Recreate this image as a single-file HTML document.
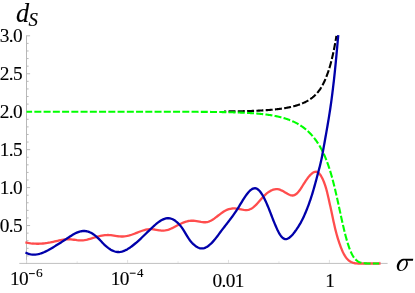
<!DOCTYPE html>
<html><head><meta charset="utf-8"><title>plot</title>
<style>html,body{margin:0;padding:0;background:#fff;}svg{display:block;}</style></head>
<body>
<svg width="415" height="293" viewBox="0 0 415 293">
<rect width="415" height="293" fill="#fff"/>
<g stroke="#b8b8b8" stroke-width="1" fill="none">
<line x1="26.5" y1="35.4" x2="26.5" y2="264.0"/>
<line x1="19.3" y1="263.4" x2="387.6" y2="263.4" stroke="#c0c0c0"/>
<line x1="26.5" y1="255.91" x2="28.6" y2="255.91"/>
<line x1="26.5" y1="248.32" x2="28.6" y2="248.32"/>
<line x1="26.5" y1="240.73" x2="28.6" y2="240.73"/>
<line x1="26.5" y1="233.14" x2="28.6" y2="233.14"/>
<line x1="26.5" y1="225.55" x2="30.1" y2="225.55"/>
<line x1="26.5" y1="217.96" x2="28.6" y2="217.96"/>
<line x1="26.5" y1="210.37" x2="28.6" y2="210.37"/>
<line x1="26.5" y1="202.78" x2="28.6" y2="202.78"/>
<line x1="26.5" y1="195.19" x2="28.6" y2="195.19"/>
<line x1="26.5" y1="187.60" x2="30.1" y2="187.60"/>
<line x1="26.5" y1="180.01" x2="28.6" y2="180.01"/>
<line x1="26.5" y1="172.42" x2="28.6" y2="172.42"/>
<line x1="26.5" y1="164.83" x2="28.6" y2="164.83"/>
<line x1="26.5" y1="157.24" x2="28.6" y2="157.24"/>
<line x1="26.5" y1="149.65" x2="30.1" y2="149.65"/>
<line x1="26.5" y1="142.06" x2="28.6" y2="142.06"/>
<line x1="26.5" y1="134.47" x2="28.6" y2="134.47"/>
<line x1="26.5" y1="126.88" x2="28.6" y2="126.88"/>
<line x1="26.5" y1="119.29" x2="28.6" y2="119.29"/>
<line x1="26.5" y1="111.70" x2="30.1" y2="111.70"/>
<line x1="26.5" y1="104.11" x2="28.6" y2="104.11"/>
<line x1="26.5" y1="96.52" x2="28.6" y2="96.52"/>
<line x1="26.5" y1="88.93" x2="28.6" y2="88.93"/>
<line x1="26.5" y1="81.34" x2="28.6" y2="81.34"/>
<line x1="26.5" y1="73.75" x2="30.1" y2="73.75"/>
<line x1="26.5" y1="66.16" x2="28.6" y2="66.16"/>
<line x1="26.5" y1="58.57" x2="28.6" y2="58.57"/>
<line x1="26.5" y1="50.98" x2="28.6" y2="50.98"/>
<line x1="26.5" y1="43.39" x2="28.6" y2="43.39"/>
<line x1="26.5" y1="35.80" x2="30.1" y2="35.80"/>
<line x1="26.70" y1="262.9" x2="26.70" y2="259.9" stroke="#e0e0e0"/>
<line x1="77.15" y1="262.9" x2="77.15" y2="261.4" stroke="#e0e0e0"/>
<line x1="127.60" y1="262.9" x2="127.60" y2="259.9" stroke="#e0e0e0"/>
<line x1="178.05" y1="262.9" x2="178.05" y2="261.4" stroke="#e0e0e0"/>
<line x1="228.50" y1="262.9" x2="228.50" y2="259.9" stroke="#e0e0e0"/>
<line x1="278.95" y1="262.9" x2="278.95" y2="261.4" stroke="#e0e0e0"/>
<line x1="329.40" y1="262.9" x2="329.40" y2="259.9" stroke="#e0e0e0"/>
<line x1="379.85" y1="262.9" x2="379.85" y2="261.4" stroke="#e0e0e0"/>
</g>
<path d="M26.50,242.60 L27.98,242.90 L29.47,243.16 L30.96,243.36 L32.46,243.52 L33.95,243.63 L35.45,243.71 L36.95,243.74 L38.44,243.73 L39.94,243.68 L41.44,243.60 L42.93,243.48 L44.43,243.33 L45.92,243.15 L47.40,242.94 L48.88,242.69 L50.36,242.43 L51.83,242.13 L53.30,241.82 L54.76,241.49 L56.22,241.15 L57.68,240.81 L59.14,240.48 L60.61,240.17 L62.08,239.88 L63.56,239.62 L65.04,239.41 L66.54,239.26 L68.03,239.20 L69.53,239.24 L71.03,239.36 L72.52,239.54 L74.02,239.76 L75.51,239.97 L77.00,240.17 L78.48,240.32 L79.96,240.40 L81.44,240.38 L82.91,240.28 L84.37,240.10 L85.84,239.85 L87.30,239.54 L88.76,239.18 L90.21,238.79 L91.67,238.37 L93.13,237.94 L94.59,237.50 L96.05,237.06 L97.52,236.64 L98.99,236.25 L100.46,235.89 L101.94,235.58 L103.42,235.33 L104.91,235.14 L106.40,235.03 L107.90,235.00 L109.39,235.06 L110.88,235.20 L112.38,235.38 L113.88,235.60 L115.37,235.83 L116.86,236.05 L118.36,236.25 L119.84,236.41 L121.33,236.50 L122.81,236.51 L124.29,236.41 L125.77,236.23 L127.23,235.96 L128.69,235.61 L130.15,235.20 L131.59,234.74 L133.03,234.24 L134.46,233.71 L135.88,233.15 L137.29,232.59 L138.70,232.03 L140.10,231.49 L141.51,230.98 L142.93,230.51 L144.36,230.09 L145.80,229.73 L147.27,229.46 L148.75,229.27 L150.25,229.18 L151.76,229.19 L153.27,229.31 L154.77,229.51 L156.27,229.76 L157.77,230.03 L159.26,230.28 L160.73,230.48 L162.20,230.59 L163.65,230.59 L165.08,230.44 L166.50,230.18 L167.91,229.80 L169.31,229.32 L170.70,228.77 L172.09,228.15 L173.47,227.48 L174.85,226.77 L176.23,226.05 L177.61,225.32 L179.00,224.60 L180.40,223.91 L181.80,223.25 L183.22,222.65 L184.64,222.10 L186.08,221.63 L187.53,221.25 L188.99,220.95 L190.46,220.77 L191.96,220.70 L193.46,220.75 L194.98,220.91 L196.50,221.15 L198.02,221.42 L199.53,221.70 L201.04,221.96 L202.52,222.16 L203.98,222.27 L205.41,222.26 L206.80,222.10 L208.16,221.77 L209.49,221.31 L210.78,220.72 L212.06,220.02 L213.32,219.23 L214.57,218.37 L215.81,217.45 L217.04,216.50 L218.28,215.53 L219.53,214.55 L220.79,213.60 L222.07,212.67 L223.37,211.80 L224.69,210.99 L226.05,210.27 L227.44,209.66 L228.87,209.16 L230.33,208.77 L231.81,208.52 L233.32,208.41 L234.84,208.43 L236.38,208.59 L237.92,208.83 L239.46,209.12 L240.99,209.42 L242.50,209.71 L243.97,209.93 L245.41,210.06 L246.80,210.06 L248.13,209.90 L249.41,209.55 L250.63,209.05 L251.81,208.39 L252.96,207.60 L254.08,206.70 L255.17,205.70 L256.25,204.62 L257.32,203.46 L258.39,202.26 L259.47,201.02 L260.56,199.76 L261.67,198.49 L262.81,197.24 L263.98,196.02 L265.20,194.83 L266.45,193.71 L267.75,192.67 L269.08,191.73 L270.44,190.90 L271.82,190.21 L273.23,189.68 L274.65,189.32 L276.09,189.15 L277.54,189.19 L278.99,189.46 L280.44,189.94 L281.89,190.58 L283.33,191.34 L284.75,192.16 L286.15,192.99 L287.51,193.78 L288.85,194.48 L290.14,195.03 L291.38,195.39 L292.58,195.51 L293.71,195.35 L294.80,194.95 L295.86,194.32 L296.88,193.49 L297.87,192.47 L298.85,191.30 L299.82,190.00 L300.79,188.58 L301.76,187.08 L302.75,185.51 L303.76,183.90 L304.80,182.27 L305.87,180.65 L306.98,179.06 L308.11,177.53 L309.27,176.12 L310.44,174.84 L311.61,173.73 L312.77,172.83 L313.92,172.17 L315.06,171.80 L316.16,171.73 L317.23,172.01 L318.25,172.62 L319.23,173.51 L320.17,174.65 L321.05,175.98 L321.88,177.45 L322.66,179.02 L323.37,180.64 L324.03,182.26 L324.62,183.84 L325.16,185.37 L325.64,186.86 L326.08,188.31 L326.47,189.73 L326.84,191.13 L327.19,192.52 L327.52,193.90 L327.84,195.29 L328.16,196.70 L328.48,198.11 L328.80,199.54 L329.13,200.99 L329.45,202.44 L329.78,203.90 L330.10,205.37 L330.43,206.85 L330.75,208.33 L331.07,209.81 L331.40,211.30 L331.71,212.78 L332.03,214.27 L332.35,215.75 L332.66,217.23 L332.97,218.70 L333.28,220.17 L333.59,221.64 L333.91,223.10 L334.23,224.56 L334.56,226.02 L334.89,227.48 L335.24,228.93 L335.60,230.38 L335.97,231.83 L336.35,233.28 L336.75,234.73 L337.16,236.17 L337.59,237.61 L338.03,239.04 L338.48,240.47 L338.95,241.90 L339.43,243.32 L339.93,244.73 L340.44,246.14 L340.98,247.54 L341.53,248.93 L342.11,250.32 L342.71,251.69 L343.35,253.04 L344.05,254.37 L344.80,255.67 L345.62,256.94 L346.52,258.15 L347.52,259.28 L348.61,260.31 L349.82,261.21 L351.12,261.97 L352.50,262.57 L353.94,263.00 L355.41,263.27 L356.91,263.42 L358.42,263.49 L359.92,263.52 L361.42,263.52 L362.92,263.51 L364.41,263.50 L365.91,263.49 L367.41,263.49 L368.91,263.50 L370.41,263.50 L371.91,263.50 L373.41,263.50 L374.90,263.50 L376.40,263.50 L377.90,263.50 L379.40,263.50" fill="none" stroke="#ff4d4d" stroke-width="2.3" stroke-linejoin="round" stroke-linecap="square"/>
<path d="M224.00,111.48 L224.50,111.48 L225.00,111.47 L225.50,111.46 L226.00,111.46 L226.50,111.45 L227.00,111.45 L227.50,111.44 L228.00,111.44 L228.50,111.43 L229.00,111.42 L229.50,111.42 L230.00,111.41 L230.50,111.40 L231.00,111.40 L231.50,111.39 L232.00,111.38 L232.50,111.38 L233.00,111.37 L233.50,111.36 L234.00,111.35 L234.50,111.34 L235.00,111.34 L235.50,111.33 L236.00,111.32 L236.50,111.31 L237.00,111.30 L237.50,111.29 L238.00,111.28 L238.50,111.27 L239.00,111.26 L239.50,111.25 L240.00,111.24 L240.50,111.23 L241.00,111.22 L241.50,111.21 L242.00,111.20 L242.50,111.19 L243.00,111.18 L243.50,111.16 L244.00,111.15 L244.50,111.14 L245.00,111.13 L245.50,111.11 L246.00,111.10 L246.50,111.09 L247.00,111.07 L247.50,111.06 L248.00,111.04 L248.50,111.03 L249.00,111.01 L249.50,111.00 L250.00,110.98 L250.50,110.96 L251.00,110.95 L251.50,110.93 L252.00,110.91 L252.50,110.89 L253.00,110.87 L253.50,110.85 L254.00,110.83 L254.50,110.81 L255.00,110.79 L255.50,110.77 L256.00,110.75 L256.50,110.73 L257.00,110.71 L257.50,110.68 L258.00,110.66 L258.50,110.64 L259.00,110.61 L259.50,110.59 L260.00,110.56 L260.50,110.54 L261.00,110.51 L261.50,110.48 L262.00,110.45 L262.50,110.42 L263.00,110.39 L263.50,110.36 L264.00,110.33 L264.50,110.30 L265.00,110.27 L265.50,110.24 L266.00,110.20 L266.50,110.17 L267.00,110.13 L267.50,110.09 L268.00,110.06 L268.50,110.02 L269.00,109.98 L269.50,109.94 L270.00,109.90 L270.50,109.86 L271.00,109.82 L271.50,109.77 L272.00,109.73 L272.50,109.68 L273.00,109.63 L273.50,109.59 L274.00,109.54 L274.50,109.49 L275.00,109.43 L275.50,109.38 L276.00,109.33 L276.50,109.27 L277.00,109.22 L277.50,109.16 L278.00,109.10 L278.50,109.04 L279.00,108.97 L279.50,108.91 L280.00,108.85 L280.50,108.78 L281.00,108.71 L281.50,108.64 L282.00,108.57 L282.50,108.49 L283.00,108.42 L283.50,108.34 L284.00,108.26 L284.50,108.18 L285.00,108.10 L285.50,108.01 L286.00,107.93 L286.50,107.84 L287.00,107.74 L287.50,107.65 L288.00,107.55 L288.50,107.46 L289.00,107.35 L289.50,107.25 L290.00,107.14 L290.50,107.03 L291.00,106.92 L291.50,106.81 L292.00,106.69 L292.50,106.57 L293.00,106.45 L293.50,106.32 L294.00,106.19 L294.50,106.05 L295.00,105.92 L295.50,105.77 L296.00,105.63 L296.50,105.48 L297.00,105.33 L297.50,105.17 L298.00,105.01 L298.50,104.84 L299.00,104.67 L299.50,104.50 L300.00,104.32 L300.50,104.13 L301.00,103.94 L301.50,103.74 L302.00,103.54 L302.50,103.33 L303.00,103.12 L303.50,102.90 L304.00,102.67 L304.50,102.43 L305.00,102.19 L305.50,101.94 L306.00,101.69 L306.50,101.42 L307.00,101.15 L307.50,100.86 L308.00,100.57 L308.50,100.27 L309.00,99.96 L309.50,99.64 L310.00,99.30 L310.50,98.96 L311.00,98.60 L311.50,98.23 L312.00,97.85 L312.50,97.46 L313.00,97.04 L313.50,96.62 L314.00,96.18 L314.50,95.72 L315.00,95.24 L315.50,94.75 L316.00,94.24 L316.50,93.70 L317.00,93.15 L317.50,92.57 L318.00,91.97 L318.50,91.34 L319.00,90.69 L319.50,90.01 L320.00,89.30 L320.50,88.55 L321.00,87.78 L321.50,86.97 L322.00,86.13 L322.50,85.24 L323.00,84.32 L323.50,83.35 L324.00,82.34 L324.50,81.28 L325.00,80.17 L325.50,79.00 L326.00,77.78 L326.50,76.49 L327.00,75.14 L327.52,73.73 L328.05,72.24 L328.58,70.67 L329.11,69.02 L329.64,67.29 L330.17,65.46 L330.71,63.53 L331.24,61.50 L331.78,59.36 L332.32,57.10 L332.86,54.72 L333.41,52.20 L333.96,49.55 L334.51,46.74 L335.06,43.77 L335.62,40.63 L336.18,37.31 L336.39,35.90" fill="none" stroke="#000" stroke-width="2.1" stroke-dasharray="7.0 2.30" stroke-dashoffset="4.81"/>
<path d="M26.50,111.70 L27.00,111.70 L27.50,111.70 L28.00,111.70 L28.50,111.70 L29.00,111.70 L29.50,111.70 L30.00,111.70 L30.50,111.70 L31.00,111.70 L31.50,111.70 L32.00,111.70 L32.50,111.70 L33.00,111.70 L33.50,111.70 L34.00,111.70 L34.50,111.70 L35.00,111.70 L35.50,111.70 L36.00,111.70 L36.50,111.70 L37.00,111.70 L37.50,111.70 L38.00,111.70 L38.50,111.70 L39.00,111.70 L39.50,111.70 L40.00,111.70 L40.50,111.70 L41.00,111.70 L41.50,111.70 L42.00,111.70 L42.50,111.70 L43.00,111.70 L43.50,111.70 L44.00,111.70 L44.50,111.70 L45.00,111.70 L45.50,111.70 L46.00,111.70 L46.50,111.70 L47.00,111.70 L47.50,111.70 L48.00,111.70 L48.50,111.70 L49.00,111.70 L49.50,111.70 L50.00,111.70 L50.50,111.70 L51.00,111.70 L51.50,111.70 L52.00,111.70 L52.50,111.70 L53.00,111.70 L53.50,111.70 L54.00,111.70 L54.50,111.70 L55.00,111.70 L55.50,111.70 L56.00,111.70 L56.50,111.70 L57.00,111.70 L57.50,111.70 L58.00,111.70 L58.50,111.70 L59.00,111.70 L59.50,111.70 L60.00,111.70 L60.50,111.70 L61.00,111.70 L61.50,111.70 L62.00,111.70 L62.50,111.70 L63.00,111.70 L63.50,111.70 L64.00,111.70 L64.50,111.70 L65.00,111.70 L65.50,111.70 L66.00,111.70 L66.50,111.70 L67.00,111.70 L67.50,111.70 L68.00,111.70 L68.50,111.70 L69.00,111.70 L69.50,111.70 L70.00,111.70 L70.50,111.70 L71.00,111.70 L71.50,111.70 L72.00,111.70 L72.50,111.70 L73.00,111.70 L73.50,111.70 L74.00,111.70 L74.50,111.70 L75.00,111.70 L75.50,111.70 L76.00,111.70 L76.50,111.70 L77.00,111.70 L77.50,111.70 L78.00,111.70 L78.50,111.70 L79.00,111.70 L79.50,111.70 L80.00,111.70 L80.50,111.70 L81.00,111.70 L81.50,111.70 L82.00,111.70 L82.50,111.70 L83.00,111.70 L83.50,111.70 L84.00,111.70 L84.50,111.70 L85.00,111.70 L85.50,111.70 L86.00,111.70 L86.50,111.70 L87.00,111.70 L87.50,111.70 L88.00,111.70 L88.50,111.70 L89.00,111.70 L89.50,111.70 L90.00,111.70 L90.50,111.70 L91.00,111.70 L91.50,111.70 L92.00,111.70 L92.50,111.70 L93.00,111.70 L93.50,111.70 L94.00,111.70 L94.50,111.70 L95.00,111.70 L95.50,111.70 L96.00,111.70 L96.50,111.70 L97.00,111.70 L97.50,111.70 L98.00,111.70 L98.50,111.70 L99.00,111.70 L99.50,111.70 L100.00,111.70 L100.50,111.70 L101.00,111.70 L101.50,111.70 L102.00,111.70 L102.50,111.70 L103.00,111.70 L103.50,111.70 L104.00,111.70 L104.50,111.70 L105.00,111.70 L105.50,111.70 L106.00,111.70 L106.50,111.70 L107.00,111.70 L107.50,111.70 L108.00,111.70 L108.50,111.70 L109.00,111.70 L109.50,111.70 L110.00,111.70 L110.50,111.70 L111.00,111.70 L111.50,111.70 L112.00,111.70 L112.50,111.70 L113.00,111.70 L113.50,111.70 L114.00,111.70 L114.50,111.70 L115.00,111.70 L115.50,111.70 L116.00,111.70 L116.50,111.70 L117.00,111.70 L117.50,111.70 L118.00,111.70 L118.50,111.70 L119.00,111.70 L119.50,111.70 L120.00,111.70 L120.50,111.70 L121.00,111.70 L121.50,111.70 L122.00,111.70 L122.50,111.70 L123.00,111.70 L123.50,111.70 L124.00,111.70 L124.50,111.70 L125.00,111.70 L125.50,111.70 L126.00,111.70 L126.50,111.70 L127.00,111.70 L127.50,111.71 L128.00,111.71 L128.50,111.71 L129.00,111.71 L129.50,111.71 L130.00,111.71 L130.50,111.71 L131.00,111.71 L131.50,111.71 L132.00,111.71 L132.50,111.71 L133.00,111.71 L133.50,111.71 L134.00,111.71 L134.50,111.71 L135.00,111.71 L135.50,111.71 L136.00,111.71 L136.50,111.71 L137.00,111.71 L137.50,111.71 L138.00,111.71 L138.50,111.71 L139.00,111.71 L139.50,111.71 L140.00,111.71 L140.50,111.71 L141.00,111.71 L141.50,111.71 L142.00,111.71 L142.50,111.71 L143.00,111.71 L143.50,111.71 L144.00,111.71 L144.50,111.71 L145.00,111.71 L145.50,111.71 L146.00,111.71 L146.50,111.71 L147.00,111.71 L147.50,111.71 L148.00,111.71 L148.50,111.71 L149.00,111.71 L149.50,111.71 L150.00,111.71 L150.50,111.71 L151.00,111.71 L151.50,111.72 L152.00,111.72 L152.50,111.72 L153.00,111.72 L153.50,111.72 L154.00,111.72 L154.50,111.72 L155.00,111.72 L155.50,111.72 L156.00,111.72 L156.50,111.72 L157.00,111.72 L157.50,111.72 L158.00,111.72 L158.50,111.72 L159.00,111.72 L159.50,111.72 L160.00,111.72 L160.50,111.72 L161.00,111.72 L161.50,111.72 L162.00,111.72 L162.50,111.72 L163.00,111.73 L163.50,111.73 L164.00,111.73 L164.50,111.73 L165.00,111.73 L165.50,111.73 L166.00,111.73 L166.50,111.73 L167.00,111.73 L167.50,111.73 L168.00,111.73 L168.50,111.73 L169.00,111.73 L169.50,111.73 L170.00,111.74 L170.50,111.74 L171.00,111.74 L171.50,111.74 L172.00,111.74 L172.50,111.74 L173.00,111.74 L173.50,111.74 L174.00,111.74 L174.50,111.74 L175.00,111.74 L175.50,111.75 L176.00,111.75 L176.50,111.75 L177.00,111.75 L177.50,111.75 L178.00,111.75 L178.50,111.75 L179.00,111.75 L179.50,111.75 L180.00,111.76 L180.50,111.76 L181.00,111.76 L181.50,111.76 L182.00,111.76 L182.50,111.76 L183.00,111.76 L183.50,111.76 L184.00,111.77 L184.50,111.77 L185.00,111.77 L185.50,111.77 L186.00,111.77 L186.50,111.77 L187.00,111.78 L187.50,111.78 L188.00,111.78 L188.50,111.78 L189.00,111.78 L189.50,111.79 L190.00,111.79 L190.50,111.79 L191.00,111.79 L191.50,111.79 L192.00,111.80 L192.50,111.80 L193.00,111.80 L193.50,111.80 L194.00,111.80 L194.50,111.81 L195.00,111.81 L195.50,111.81 L196.00,111.81 L196.50,111.82 L197.00,111.82 L197.50,111.82 L198.00,111.83 L198.50,111.83 L199.00,111.83 L199.50,111.83 L200.00,111.84 L200.50,111.84 L201.00,111.84 L201.50,111.85 L202.00,111.85 L202.50,111.85 L203.00,111.86 L203.50,111.86 L204.00,111.87 L204.50,111.87 L205.00,111.87 L205.50,111.88 L206.00,111.88 L206.50,111.89 L207.00,111.89 L207.50,111.89 L208.00,111.90 L208.50,111.90 L209.00,111.91 L209.50,111.91 L210.00,111.92 L210.50,111.92 L211.00,111.93 L211.50,111.93 L212.00,111.94 L212.50,111.94 L213.00,111.95 L213.50,111.96 L214.00,111.96 L214.50,111.97 L215.00,111.97 L215.50,111.98 L216.00,111.99 L216.50,111.99 L217.00,112.00 L217.50,112.01 L218.00,112.01 L218.50,112.02 L219.00,112.03 L219.50,112.04 L220.00,112.04 L220.50,112.05 L221.00,112.06 L221.50,112.07 L222.00,112.08 L222.50,112.08 L223.00,112.09 L223.50,112.10 L224.00,112.11 L224.50,112.12 L225.00,112.13 L225.50,112.14 L226.00,112.15 L226.50,112.16 L227.00,112.17 L227.50,112.18 L228.00,112.19 L228.50,112.21 L229.00,112.22 L229.50,112.23 L230.00,112.24 L230.50,112.25 L231.00,112.27 L231.50,112.28 L232.00,112.29 L232.50,112.31 L233.00,112.32 L233.50,112.34 L234.00,112.35 L234.50,112.37 L235.00,112.38 L235.50,112.40 L236.00,112.41 L236.50,112.43 L237.00,112.45 L237.50,112.46 L238.00,112.48 L238.50,112.50 L239.00,112.52 L239.50,112.54 L240.00,112.56 L240.50,112.58 L241.00,112.60 L241.50,112.62 L242.00,112.64 L242.50,112.66 L243.00,112.68 L243.50,112.70 L244.00,112.73 L244.50,112.75 L245.00,112.78 L245.50,112.80 L246.00,112.83 L246.50,112.85 L247.00,112.88 L247.50,112.91 L248.00,112.93 L248.50,112.96 L249.00,112.99 L249.50,113.02 L250.00,113.05 L250.50,113.08 L251.00,113.12 L251.50,113.15 L252.00,113.18 L252.50,113.22 L253.00,113.25 L253.50,113.29 L254.00,113.32 L254.50,113.36 L255.00,113.40 L255.50,113.44 L256.00,113.48 L256.50,113.52 L257.00,113.56 L257.50,113.61 L258.00,113.65 L258.50,113.70 L259.00,113.74 L259.50,113.79 L260.00,113.84 L260.50,113.89 L261.00,113.94 L261.50,113.99 L262.00,114.04 L262.50,114.10 L263.00,114.15 L263.50,114.21 L264.00,114.27 L264.50,114.33 L265.00,114.39 L265.50,114.45 L266.00,114.51 L266.50,114.58 L267.00,114.64 L267.50,114.71 L268.00,114.78 L268.50,114.85 L269.00,114.93 L269.50,115.00 L270.00,115.08 L270.50,115.16 L271.00,115.24 L271.50,115.32 L272.00,115.40 L272.50,115.49 L273.00,115.58 L273.50,115.67 L274.00,115.76 L274.50,115.85 L275.00,115.95 L275.50,116.05 L276.00,116.15 L276.50,116.25 L277.00,116.36 L277.50,116.47 L278.00,116.58 L278.50,116.69 L279.00,116.81 L279.50,116.93 L280.00,117.05 L280.50,117.17 L281.00,117.30 L281.50,117.43 L282.00,117.56 L282.50,117.70 L283.00,117.84 L283.50,117.98 L284.00,118.13 L284.50,118.28 L285.00,118.43 L285.50,118.59 L286.00,118.75 L286.50,118.91 L287.00,119.08 L287.50,119.25 L288.00,119.43 L288.50,119.61 L289.00,119.79 L289.50,119.98 L290.00,120.18 L290.50,120.38 L291.00,120.58 L291.50,120.79 L292.00,121.00 L292.50,121.22 L293.00,121.44 L293.50,121.67 L294.00,121.90 L294.50,122.14 L295.00,122.39 L295.50,122.64 L296.00,122.89 L296.50,123.16 L297.00,123.43 L297.50,123.70 L298.00,123.98 L298.50,124.27 L299.00,124.57 L299.50,124.87 L300.00,125.18 L300.50,125.50 L301.00,125.83 L301.50,126.16 L302.00,126.50 L302.50,126.85 L303.00,127.21 L303.50,127.58 L304.00,127.95 L304.50,128.34 L305.00,128.73 L305.50,129.14 L306.00,129.55 L306.50,129.98 L307.00,130.41 L307.50,130.86 L308.00,131.32 L308.50,131.79 L309.00,132.27 L309.50,132.76 L310.00,133.26 L310.50,133.78 L311.00,134.31 L311.50,134.86 L312.00,135.41 L312.50,135.99 L313.00,136.57 L313.50,137.18 L314.00,137.79 L314.50,138.43 L315.00,139.08 L315.50,139.75 L316.00,140.43 L316.50,141.14 L317.00,141.86 L317.50,142.60 L318.00,143.37 L318.50,144.15 L319.00,144.96 L319.50,145.79 L320.00,146.64 L320.50,147.52 L321.00,148.42 L321.50,149.35 L322.00,150.31 L322.50,151.29 L323.00,152.31 L323.50,153.36 L324.00,154.44 L324.50,155.55 L325.00,156.70 L325.50,157.89 L326.00,159.11 L326.50,160.38 L327.00,161.69 L327.50,163.04 L328.00,164.43 L328.50,165.87 L329.00,167.36 L329.50,168.90 L330.00,170.48 L330.50,172.12 L331.00,173.80 L331.50,175.54 L332.00,177.33 L332.50,179.17 L333.00,181.06 L333.50,183.00 L334.00,184.98 L334.50,187.02 L335.00,189.09 L335.50,191.21 L336.00,193.37 L336.50,195.57 L337.00,197.79 L337.50,200.04 L338.00,202.32 L338.50,204.61 L339.00,206.92 L339.50,209.23 L340.00,211.55 L340.50,213.86 L341.00,216.16 L341.50,218.44 L342.00,220.70 L342.50,222.93 L343.00,225.13 L343.50,227.29 L344.00,229.40 L344.50,231.47 L345.00,233.48 L345.50,235.43 L346.00,237.31 L346.50,239.13 L347.00,240.88 L347.50,242.56 L348.00,244.17 L348.50,245.70 L349.00,247.15 L349.50,248.52 L350.00,249.82 L350.50,251.04 L351.00,252.19 L351.50,253.25 L352.00,254.25 L352.50,255.18 L353.00,256.03 L353.50,256.82 L354.00,257.55 L354.50,258.21 L355.00,258.82 L355.50,259.37 L356.00,259.86 L356.50,260.31 L357.00,260.72 L357.50,261.08 L358.00,261.40 L358.50,261.69 L359.00,261.94 L359.50,262.17 L360.00,262.36 L360.50,262.54 L361.00,262.68 L361.50,262.81 L362.00,262.93 L362.50,263.02 L363.00,263.10 L363.50,263.17 L364.00,263.23 L364.50,263.28 L365.00,263.32 L365.50,263.35 L366.00,263.38 L366.50,263.41 L367.00,263.43 L367.50,263.44 L368.00,263.45 L368.50,263.46 L369.00,263.47 L369.50,263.48 L370.00,263.48 L370.50,263.49 L371.00,263.49 L371.50,263.49 L372.00,263.49 L372.50,263.50 L373.00,263.50 L373.50,263.50 L374.00,263.50 L374.50,263.50 L375.00,263.50 L375.50,263.50 L376.00,263.50 L376.50,263.50 L377.00,263.50 L377.50,263.50 L378.00,263.50 L378.50,263.50 L379.00,263.50" fill="none" stroke="#00ff00" stroke-width="2.1" stroke-dasharray="7.0 2.247" stroke-dashoffset="1.4"/>
<path d="M26.50,253.00 L27.97,253.61 L29.45,254.06 L30.92,254.38 L32.38,254.56 L33.85,254.61 L35.30,254.55 L36.75,254.39 L38.20,254.12 L39.64,253.77 L41.06,253.33 L42.48,252.82 L43.89,252.24 L45.29,251.61 L46.67,250.93 L48.04,250.22 L49.40,249.47 L50.74,248.70 L52.06,247.92 L53.37,247.14 L54.66,246.36 L55.93,245.58 L57.20,244.80 L58.45,244.02 L59.71,243.24 L60.96,242.45 L62.21,241.65 L63.47,240.83 L64.74,240.00 L66.02,239.15 L67.32,238.28 L68.64,237.40 L69.97,236.52 L71.31,235.66 L72.68,234.83 L74.05,234.04 L75.43,233.31 L76.83,232.65 L78.23,232.08 L79.64,231.60 L81.05,231.25 L82.47,231.02 L83.90,230.94 L85.32,231.01 L86.75,231.25 L88.17,231.64 L89.57,232.17 L90.95,232.82 L92.30,233.58 L93.61,234.42 L94.88,235.34 L96.09,236.31 L97.24,237.32 L98.33,238.36 L99.37,239.42 L100.39,240.50 L101.40,241.59 L102.42,242.68 L103.47,243.77 L104.56,244.85 L105.71,245.91 L106.91,246.94 L108.16,247.92 L109.44,248.83 L110.76,249.66 L112.10,250.40 L113.47,251.01 L114.86,251.50 L116.27,251.84 L117.68,252.01 L119.10,252.02 L120.52,251.86 L121.93,251.55 L123.34,251.11 L124.75,250.56 L126.13,249.89 L127.51,249.14 L128.86,248.31 L130.19,247.42 L131.50,246.48 L132.78,245.50 L134.02,244.51 L135.23,243.51 L136.40,242.51 L137.54,241.52 L138.66,240.52 L139.74,239.53 L140.82,238.54 L141.87,237.54 L142.92,236.54 L143.97,235.53 L145.02,234.51 L146.07,233.48 L147.14,232.44 L148.22,231.38 L149.32,230.31 L150.45,229.22 L151.61,228.11 L152.80,226.98 L154.02,225.86 L155.27,224.75 L156.54,223.67 L157.84,222.65 L159.15,221.69 L160.48,220.81 L161.82,220.03 L163.18,219.37 L164.54,218.84 L165.91,218.46 L167.28,218.24 L168.65,218.21 L170.01,218.37 L171.37,218.74 L172.71,219.28 L174.03,219.99 L175.31,220.83 L176.55,221.80 L177.74,222.85 L178.88,223.98 L179.95,225.17 L180.94,226.38 L181.86,227.61 L182.72,228.85 L183.52,230.10 L184.29,231.35 L185.03,232.61 L185.77,233.88 L186.52,235.15 L187.29,236.42 L188.09,237.68 L188.94,238.95 L189.85,240.21 L190.85,241.46 L191.91,242.69 L193.03,243.86 L194.21,244.95 L195.43,245.94 L196.67,246.80 L197.94,247.51 L199.22,248.03 L200.50,248.35 L201.77,248.46 L203.03,248.35 L204.28,248.05 L205.52,247.58 L206.75,246.94 L207.97,246.16 L209.17,245.25 L210.36,244.23 L211.54,243.10 L212.69,241.89 L213.84,240.61 L214.96,239.27 L216.06,237.89 L217.15,236.49 L218.21,235.08 L219.25,233.68 L220.27,232.29 L221.27,230.94 L222.24,229.64 L223.19,228.39 L224.12,227.18 L225.03,226.00 L225.93,224.84 L226.81,223.71 L227.68,222.59 L228.54,221.48 L229.40,220.37 L230.25,219.26 L231.10,218.14 L231.95,217.00 L232.80,215.83 L233.65,214.64 L234.51,213.41 L235.38,212.14 L236.26,210.83 L237.15,209.45 L238.06,208.02 L238.99,206.52 L239.93,204.97 L240.89,203.39 L241.86,201.79 L242.84,200.20 L243.83,198.63 L244.83,197.10 L245.84,195.63 L246.86,194.24 L247.88,192.95 L248.90,191.78 L249.92,190.74 L250.94,189.85 L251.96,189.14 L252.98,188.62 L253.99,188.31 L255.00,188.23 L255.99,188.40 L256.98,188.81 L257.96,189.45 L258.92,190.30 L259.86,191.32 L260.79,192.50 L261.69,193.81 L262.57,195.22 L263.42,196.72 L264.24,198.29 L265.03,199.89 L265.79,201.50 L266.51,203.10 L267.19,204.67 L267.83,206.19 L268.43,207.65 L269.01,209.07 L269.55,210.46 L270.08,211.81 L270.59,213.15 L271.10,214.46 L271.59,215.77 L272.09,217.08 L272.60,218.39 L273.11,219.72 L273.65,221.07 L274.20,222.44 L274.79,223.85 L275.40,225.30 L276.05,226.80 L276.75,228.35 L277.49,229.95 L278.28,231.54 L279.11,233.10 L279.99,234.56 L280.91,235.90 L281.87,237.06 L282.87,238.01 L283.92,238.69 L285.01,239.07 L286.13,239.10 L287.29,238.82 L288.46,238.24 L289.65,237.43 L290.84,236.40 L292.01,235.22 L293.17,233.90 L294.29,232.50 L295.36,231.06 L296.39,229.61 L297.35,228.19 L298.25,226.81 L299.09,225.46 L299.88,224.13 L300.63,222.83 L301.33,221.54 L302.00,220.26 L302.64,218.99 L303.26,217.71 L303.85,216.43 L304.44,215.13 L305.01,213.81 L305.58,212.47 L306.15,211.12 L306.70,209.74 L307.25,208.35 L307.80,206.94 L308.33,205.53 L308.86,204.11 L309.37,202.68 L309.87,201.24 L310.37,199.81 L310.84,198.37 L311.31,196.93 L311.77,195.50 L312.21,194.06 L312.65,192.62 L313.08,191.19 L313.50,189.75 L313.91,188.31 L314.32,186.87 L314.72,185.43 L315.12,184.00 L315.51,182.56 L315.90,181.12 L316.28,179.68 L316.67,178.23 L317.05,176.79 L317.43,175.35 L317.81,173.90 L318.20,172.46 L318.58,171.01 L318.96,169.57 L319.34,168.12 L319.72,166.67 L320.08,165.21 L320.44,163.76 L320.78,162.30 L321.12,160.84 L321.43,159.38 L321.73,157.91 L322.02,156.44 L322.30,154.97 L322.57,153.50 L322.84,152.02 L323.10,150.55 L323.36,149.08 L323.63,147.60 L323.89,146.13 L324.16,144.65 L324.42,143.18 L324.68,141.70 L324.95,140.23 L325.21,138.76 L325.47,137.28 L325.74,135.81 L326.00,134.33 L326.26,132.86 L326.52,131.38 L326.78,129.91 L327.03,128.43 L327.29,126.96 L327.54,125.48 L327.79,124.01 L328.04,122.53 L328.29,121.05 L328.53,119.58 L328.78,118.10 L329.02,116.62 L329.25,115.14 L329.49,113.66 L329.72,112.18 L329.94,110.71 L330.17,109.22 L330.39,107.74 L330.60,106.26 L330.82,104.78 L331.03,103.30 L331.23,101.82 L331.44,100.33 L331.64,98.85 L331.83,97.36 L332.03,95.88 L332.22,94.39 L332.41,92.91 L332.59,91.42 L332.78,89.94 L332.96,88.45 L333.13,86.96 L333.31,85.48 L333.48,83.99 L333.65,82.50 L333.82,81.01 L333.99,79.52 L334.15,78.04 L334.31,76.55 L334.47,75.06 L334.63,73.57 L334.79,72.08 L334.94,70.59 L335.09,69.10 L335.24,67.61 L335.39,66.12 L335.54,64.63 L335.69,63.14 L335.83,61.65 L335.97,60.16 L336.12,58.66 L336.26,57.17 L336.40,55.68 L336.54,54.19 L336.67,52.70 L336.81,51.21 L336.95,49.72 L337.08,48.23 L337.22,46.74 L337.35,45.24 L337.49,43.75 L337.62,42.26 L337.75,40.77 L337.89,39.28 L338.02,37.79 L338.15,36.30" fill="none" stroke="#0000aa" stroke-width="2.3" stroke-linejoin="round" stroke-linecap="square"/>
<g font-family="'Liberation Serif', serif" fill="#000" stroke="#000" stroke-width="0.12" style="will-change:opacity">
<text transform="translate(22.0,231.70) scale(1.05,1)" font-size="18.4" letter-spacing="-0.6" text-anchor="end">0.5</text>
<text transform="translate(22.0,193.75) scale(1.05,1)" font-size="18.4" letter-spacing="-0.6" text-anchor="end">1.0</text>
<text transform="translate(22.0,155.80) scale(1.05,1)" font-size="18.4" letter-spacing="-0.6" text-anchor="end">1.5</text>
<text transform="translate(22.0,117.85) scale(1.05,1)" font-size="18.4" letter-spacing="-0.6" text-anchor="end">2.0</text>
<text transform="translate(22.0,79.90) scale(1.05,1)" font-size="18.4" letter-spacing="-0.6" text-anchor="end">2.5</text>
<text transform="translate(22.0,41.95) scale(1.05,1)" font-size="18.4" letter-spacing="-0.6" text-anchor="end">3.0</text>
<text transform="translate(10.0,284.8) scale(1.05,1)" font-size="18.4" letter-spacing="-0.6">10</text><rect x="29.00" y="273.1" width="5.8" height="1.0" stroke="none"/><text x="36.10" y="277.3" font-size="13.4">6</text>
<text transform="translate(110.8,284.8) scale(1.05,1)" font-size="18.4" letter-spacing="-0.6">10</text><rect x="129.80" y="272.7" width="5.8" height="1.0" stroke="none"/><text x="136.90" y="277.3" font-size="12.9">4</text>
<text transform="translate(228.2,287.1) scale(1.05,1)" font-size="18.4" letter-spacing="-0.6" text-anchor="middle">0.01</text>
<text transform="translate(329.7,287.1) scale(1.05,1)" font-size="18.4" letter-spacing="-0.6" text-anchor="middle">1</text>
<text x="15.9" y="22.2" font-size="26.3" font-style="italic">d</text>
<text x="28.5" y="25.6" font-size="18.8" font-style="italic">S</text>
<path stroke="none" fill-rule="evenodd" transform="translate(393,254) scale(0.0683)" d="M150,68 C95,75 55,130 55,185 C55,225 80,248 112,248 C170,248 218,190 218,135 C218,118 212,106 203,100 L292,100 L296,68 Z M168,90 C194,90 196,118 192,142 C185,192 152,237 119,237 C92,237 86,210 90,183 C96,133 134,90 168,90 Z"/>
</g>
</svg>
</body></html>
